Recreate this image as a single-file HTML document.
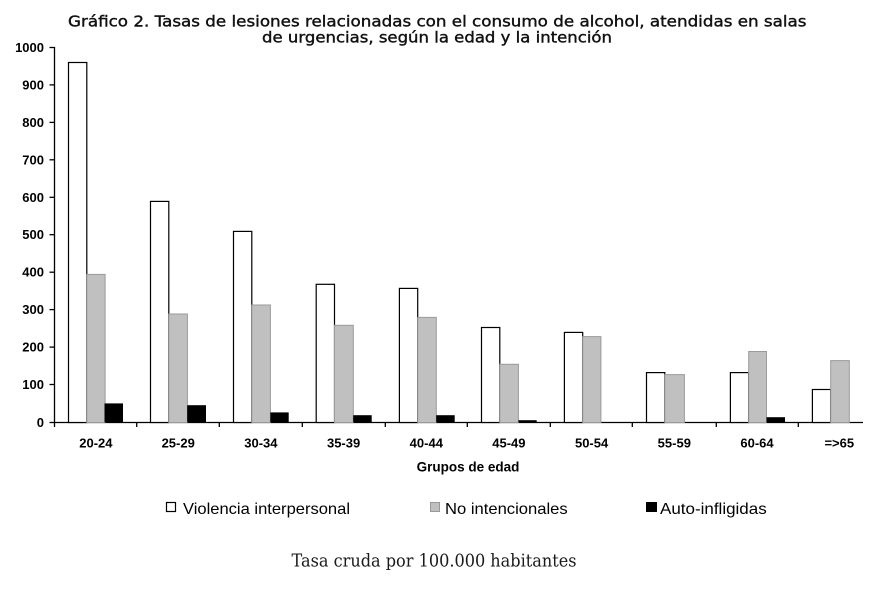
<!DOCTYPE html>
<html><head><meta charset="utf-8"><style>
html,body{margin:0;padding:0;background:#fff;}
svg{display:block;}
</style></head><body>
<svg width="890" height="593" viewBox="0 0 890 593" xmlns="http://www.w3.org/2000/svg">
<rect width="890" height="593" fill="#fff"/>
<g font-family="DejaVu Sans, Verdana, sans-serif" font-size="15" fill="#111" stroke="#111" stroke-width="0.4">
<text x="68" y="26.5" textLength="738.5" lengthAdjust="spacingAndGlyphs">Gráfico 2. Tasas de lesiones relacionadas con el consumo de alcohol, atendidas en salas</text>
<text x="262" y="42.5" textLength="350" lengthAdjust="spacingAndGlyphs">de urgencias, según la edad y la intención</text>
</g>
<g stroke="#000" stroke-width="1.3" fill="none">
<line x1="54.5" y1="47" x2="54.5" y2="422.5"/>
<line x1="54" y1="422.5" x2="863" y2="422.5"/>
<line x1="49.5" y1="47.5" x2="54.5" y2="47.5"/>
<line x1="49.5" y1="84.9" x2="54.5" y2="84.9"/>
<line x1="49.5" y1="122.4" x2="54.5" y2="122.4"/>
<line x1="49.5" y1="159.8" x2="54.5" y2="159.8"/>
<line x1="49.5" y1="197.3" x2="54.5" y2="197.3"/>
<line x1="49.5" y1="234.7" x2="54.5" y2="234.7"/>
<line x1="49.5" y1="272.2" x2="54.5" y2="272.2"/>
<line x1="49.5" y1="309.6" x2="54.5" y2="309.6"/>
<line x1="49.5" y1="347.1" x2="54.5" y2="347.1"/>
<line x1="49.5" y1="384.5" x2="54.5" y2="384.5"/>
<line x1="49.5" y1="422.5" x2="54.5" y2="422.5"/>
<line x1="54.5" y1="422" x2="54.5" y2="427"/>
<line x1="136.7" y1="422" x2="136.7" y2="427"/>
<line x1="219.3" y1="422" x2="219.3" y2="427"/>
<line x1="302.3" y1="422" x2="302.3" y2="427"/>
<line x1="385.3" y1="422" x2="385.3" y2="427"/>
<line x1="467.3" y1="422" x2="467.3" y2="427"/>
<line x1="550.3" y1="422" x2="550.3" y2="427"/>
<line x1="632.3" y1="422" x2="632.3" y2="427"/>
<line x1="716.3" y1="422" x2="716.3" y2="427"/>
<line x1="798.3" y1="422" x2="798.3" y2="427"/>
</g>
<g font-family="Liberation Sans, Arial, sans-serif" font-size="13" font-weight="bold" fill="#000" text-anchor="end">
<text x="44" y="52">1000</text>
<text x="44" y="89.4">900</text>
<text x="44" y="126.9">800</text>
<text x="44" y="164.3">700</text>
<text x="44" y="201.8">600</text>
<text x="44" y="239.2">500</text>
<text x="44" y="276.7">400</text>
<text x="44" y="314.1">300</text>
<text x="44" y="351.6">200</text>
<text x="44" y="389">100</text>
<text x="44" y="427">0</text>
</g>
<g font-family="Liberation Sans, Arial, sans-serif" font-size="13" font-weight="bold" fill="#000" text-anchor="middle">
<text x="95.9" y="447.7">20-24</text>
<text x="178.2" y="447.7">25-29</text>
<text x="260.9" y="447.7">30-34</text>
<text x="343.6" y="447.7">35-39</text>
<text x="426.3" y="447.7">40-44</text>
<text x="508.9" y="447.7">45-49</text>
<text x="591.6" y="447.7">50-54</text>
<text x="674.3" y="447.7">55-59</text>
<text x="757" y="447.7">60-64</text>
<text x="839.3" y="447.7">=&gt;65</text>
<text x="468" y="471.5" font-size="13.5">Grupos de edad</text>
</g>
<g>
<g fill="#fff" stroke="#000" stroke-width="1.2">
<rect x="68.5" y="62.5" width="18.3" height="360"/>
<rect x="150.5" y="201.4" width="18.3" height="221.1"/>
<rect x="233.5" y="231.4" width="18.3" height="191.1"/>
<rect x="316.2" y="284.3" width="18.3" height="138.2"/>
<rect x="399.4" y="288.4" width="18.3" height="134.1"/>
<rect x="481.5" y="327.5" width="18.3" height="95"/>
<rect x="564.4" y="332.4" width="18.3" height="90.1"/>
<rect x="646.5" y="372.6" width="18.3" height="49.9"/>
<rect x="730.4" y="372.6" width="18.3" height="49.9"/>
<rect x="812.4" y="389.5" width="18.3" height="33"/>
</g>
<g fill="#c0c0c0" stroke="#9a9a9a" stroke-width="1">
<rect x="86.8" y="274.4" width="18.3" height="148.1"/>
<rect x="168.8" y="314" width="18.6" height="108.5"/>
<rect x="251.8" y="305" width="18.6" height="117.5"/>
<rect x="334.5" y="325.3" width="18.8" height="97.2"/>
<rect x="417.7" y="317.4" width="18.6" height="105.1"/>
<rect x="499.8" y="364.3" width="18.6" height="58.2"/>
<rect x="582.7" y="336.6" width="18.2" height="85.9"/>
<rect x="664.8" y="374.6" width="19.6" height="47.9"/>
<rect x="748.7" y="351.5" width="17.8" height="71"/>
<rect x="830.7" y="360.6" width="18.6" height="61.9"/>
</g>
<g fill="#000">
<rect x="104.5" y="403.4" width="18.5" height="19.1"/>
<rect x="187.2" y="405.2" width="18.8" height="17.3"/>
<rect x="270.3" y="412.4" width="18.4" height="10.1"/>
<rect x="353.2" y="415.2" width="18.5" height="7.3"/>
<rect x="436.2" y="415.2" width="18.5" height="7.3"/>
<rect x="518.4" y="420.2" width="18.3" height="2.3"/>
<rect x="766.5" y="417.2" width="18.5" height="5.3"/>
</g>
</g>
<rect x="166.5" y="502.5" width="9" height="9" fill="#fff" stroke="#000" stroke-width="1.2"/>
<rect x="430.5" y="502.5" width="9" height="9" fill="#c0c0c0" stroke="#9a9a9a" stroke-width="1"/>
<rect x="646" y="502" width="11" height="10" fill="#000"/>
<g font-family="Liberation Sans, Arial, sans-serif" font-size="16" fill="#000">
<text x="183" y="514" textLength="167" lengthAdjust="spacingAndGlyphs">Violencia interpersonal</text>
<text x="445" y="514" textLength="122.7" lengthAdjust="spacingAndGlyphs">No intencionales</text>
<text x="660" y="514" textLength="106.7" lengthAdjust="spacingAndGlyphs">Auto-infligidas</text>
</g>
<text x="291.5" y="566.5" font-family="DejaVu Serif, Liberation Serif, serif" font-size="18" fill="#1a1a1a" textLength="285" lengthAdjust="spacingAndGlyphs">Tasa cruda por 100.000 habitantes</text>
</svg>
</body></html>
